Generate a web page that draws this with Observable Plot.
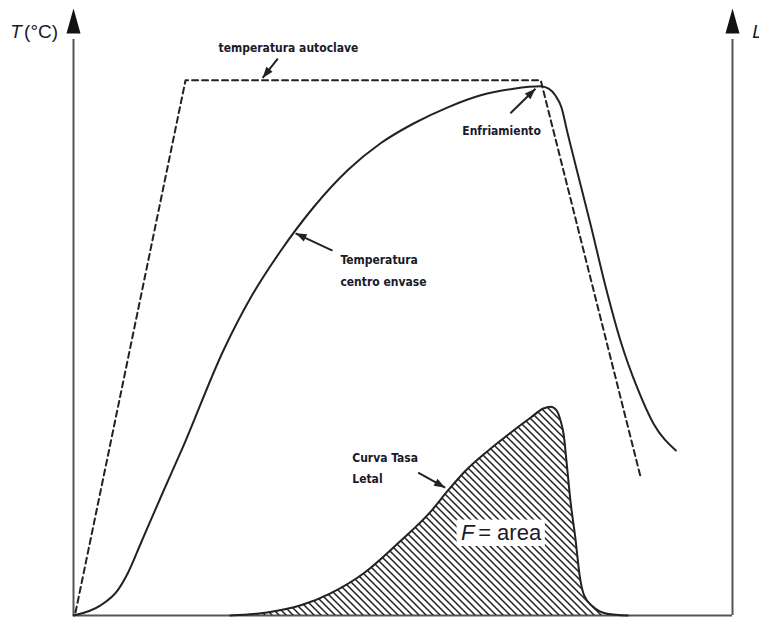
<!DOCTYPE html>
<html><head><meta charset="utf-8">
<script src="https://cdn.jsdelivr.net/npm/d3@7"></script>
<script src="https://cdn.jsdelivr.net/npm/@observablehq/plot@0.6"></script>
<style>html,body{margin:0;padding:0;background:#fff;overflow:hidden;}</style>
</head><body><div id="chart"></div>
<script>
// Temperatura centro envase (solid)
const tempTime  = [0, 4.1, 6.7, 8.35, 10.2, 13.35, 16.5, 22.8, 26.9, 31.4, 36.4, 41.6, 46.6, 51.6, 56.8, 61.8, 66.8, 70.9, 72.1, 73.1, 74.1, 74.8, 76.2, 78.5, 80.7, 83.0, 85.6, 88.0, 91.4];
const tempValue = [0, 1.7, 4.2, 7.3, 12.0, 20.0, 27.8, 44.3, 53.0, 60.7, 68.0, 74.2, 78.7, 82.0, 84.7, 86.7, 87.8, 88.2, 87.8, 86.7, 84.5, 81.2, 75.0, 65.0, 55.0, 45.8, 37.8, 32.0, 27.5];
// Temperatura autoclave (dashed)
const autoTime  = [0.3, 17.0, 70.9, 86.0];
const autoValue = [0.5, 89.2, 89.2, 23.3];
// Curva tasa letal (hatched)
const lethTime  = [23.8, 29.4, 34.5, 39.0, 44.0, 49.2, 54.2, 56.8, 59.2, 64.3, 69.4, 71.3, 72.4, 73.3, 73.9, 74.4, 74.8, 75.4, 76.2, 76.8, 77.5, 78.8, 81.0, 84.1];
const lethValue = [0, 0.5, 1.7, 3.7, 7.0, 12.0, 17.3, 20.8, 23.8, 28.7, 33.0, 34.5, 34.8, 34.2, 32.5, 30.0, 25.8, 19.2, 12.5, 6.7, 3.3, 1.5, 0.3, 0];

// Annotations
const noteLabels = ["temperatura autoclave", "Enfriamiento", "Temperatura", "centro envase", "Curva Tasa", "Letal"];
const noteX      = [22.0, 59.0, 40.5, 40.5, 42.3, 42.3];
const noteY      = [94.5, 80.8, 59.3, 55.6, 26.3, 22.8];
const arrowFromX = [31.0, 66.3, 39.3, 52.3];
const arrowFromY = [92.8, 83.7, 60.8, 23.8];
const arrowToX   = [28.7, 70.1, 33.7, 56.4];
const arrowToY   = [89.6, 87.8, 63.7, 21.3];
const axisLabels = [
  {text: "T", x: -9.6, y: 97.2, italic: true},
  {text: "(°C)", x: -7.5, y: 97.2, italic: false},
  {text: "L", x: 103.0, y: 97.2, italic: true}
];
const areaLabels = [
  {text: "F", x: 58.8, y: 13.7, italic: true},
  {text: "= area", x: 61.4, y: 13.7, italic: false}
];
const areaBox = [{x1: 58.2, x2: 71.6, y1: 11.5, y2: 15.9}];

const temp = tempTime.map((t, i) => ({t, v: tempValue[i]}));
const auto = autoTime.map((t, i) => ({t, v: autoValue[i]}));
const leth = lethTime.map((t, i) => ({t, v: lethValue[i]}));
const notes = noteLabels.map((s, i) => ({s, x: noteX[i], y: noteY[i]}));

const W = 759, H = 618, mL = 73, mR = 27, mT = 15, mB = 3;
const sx = Plot.scale({x: {domain: [0, 100], range: [mL, W - mR]}});
const sy = Plot.scale({y: {domain: [0, 100], range: [H - mB, mT]}});
const arrows = arrowFromX.map((x1, i) => {
  const dx = sx.apply(arrowToX[i]) - sx.apply(x1);
  const dy = sy.apply(arrowToY[i]) - sy.apply(arrowFromY[i]);
  return {x1, y1: arrowFromY[i], x2: arrowToX[i], y2: arrowToY[i], rot: Math.atan2(dx, -dy) * 180 / Math.PI};
});
const axes = [{x: 0}, {x: 100}];

const ink = "#222";
const axisInk = "#555";
const noteFont = "'Liberation Sans Narrow','DejaVu Sans Condensed','Liberation Sans',sans-serif";
const mainFont = "'Liberation Sans',Arial,sans-serif";

const chart = Plot.plot({
  width: W, height: H,
  marginLeft: mL, marginRight: mR, marginTop: mT, marginBottom: mB,
  x: {domain: [0, 100], axis: null},
  y: {domain: [0, 100], axis: null},
  style: {background: "#fff", overflow: "visible"},
  marks: [
    // axes
    Plot.ruleY([0], {x1: 0, x2: 100, stroke: axisInk, strokeWidth: 2}),
    Plot.ruleX(axes, {x: "x", y1: 0, y2: 96, stroke: axisInk, strokeWidth: 2}),
    Plot.vector(axes, {x: "x", y: 97, length: 25, r: 7, rotate: 0, shape: "spike", anchor: "start", fill: "#111", fillOpacity: 1, stroke: "none"}),
    // lethal rate hatched area
    Plot.areaY(leth, {x: "t", y: "v", curve: "monotone-x", fill: "url(#hatch)"}),
    Plot.line(leth, {x: "t", y: "v", curve: "monotone-x", stroke: ink, strokeWidth: 2}),
    // autoclave
    Plot.line(auto, {x: "t", y: "v", stroke: ink, strokeWidth: 2, strokeDasharray: "6,4"}),
    // center temperature
    Plot.line(temp, {x: "t", y: "v", curve: "monotone-x", stroke: ink, strokeWidth: 2}),
    // annotation arrows
    Plot.link(arrows, {x1: "x1", y1: "y1", x2: "x2", y2: "y2", stroke: ink, strokeWidth: 2}),
    Plot.vector(arrows, {x: "x2", y: "y2", rotate: "rot", length: 11, r: 4, shape: "spike", anchor: "end", fill: ink, fillOpacity: 1, stroke: "none"}),
    // annotation labels
    Plot.text(notes, {x: "x", y: "y", text: "s", textAnchor: "start", fontFamily: noteFont, fontWeight: "bold", fontSize: 12, fill: "#1a1a2a"}),
    // F = area
    Plot.rect(areaBox, {x1: "x1", x2: "x2", y1: "y1", y2: "y2", fill: "#fff"}),
    Plot.text(areaLabels.filter(d => d.italic), {x: "x", y: "y", text: "text", textAnchor: "start", fontFamily: mainFont, fontStyle: "italic", fontSize: 22, fill: "#1a1a2a"}),
    Plot.text(areaLabels.filter(d => !d.italic), {x: "x", y: "y", text: "text", textAnchor: "start", fontFamily: mainFont, fontSize: 22, fill: "#1a1a2a"}),
    // axis labels
    Plot.text(axisLabels.filter(d => d.italic), {x: "x", y: "y", text: "text", textAnchor: "start", fontFamily: mainFont, fontStyle: "italic", fontSize: 19, fill: "#1a1a2a"}),
    Plot.text(axisLabels.filter(d => !d.italic), {x: "x", y: "y", text: "text", textAnchor: "start", fontFamily: mainFont, fontSize: 19, fill: "#1a1a2a"})
  ]
});

const ns = "http://www.w3.org/2000/svg";
const defs = document.createElementNS(ns, "defs");
defs.innerHTML = '<pattern id="hatch" patternUnits="userSpaceOnUse" width="7" height="7"><path d="M-1,-1 L8,8 M-1,6 L1,8 M6,-1 L8,1" stroke="#222" stroke-width="1.5"/></pattern>';
chart.insertBefore(defs, chart.firstChild);
document.getElementById("chart").appendChild(chart);
</script>
</body></html>
